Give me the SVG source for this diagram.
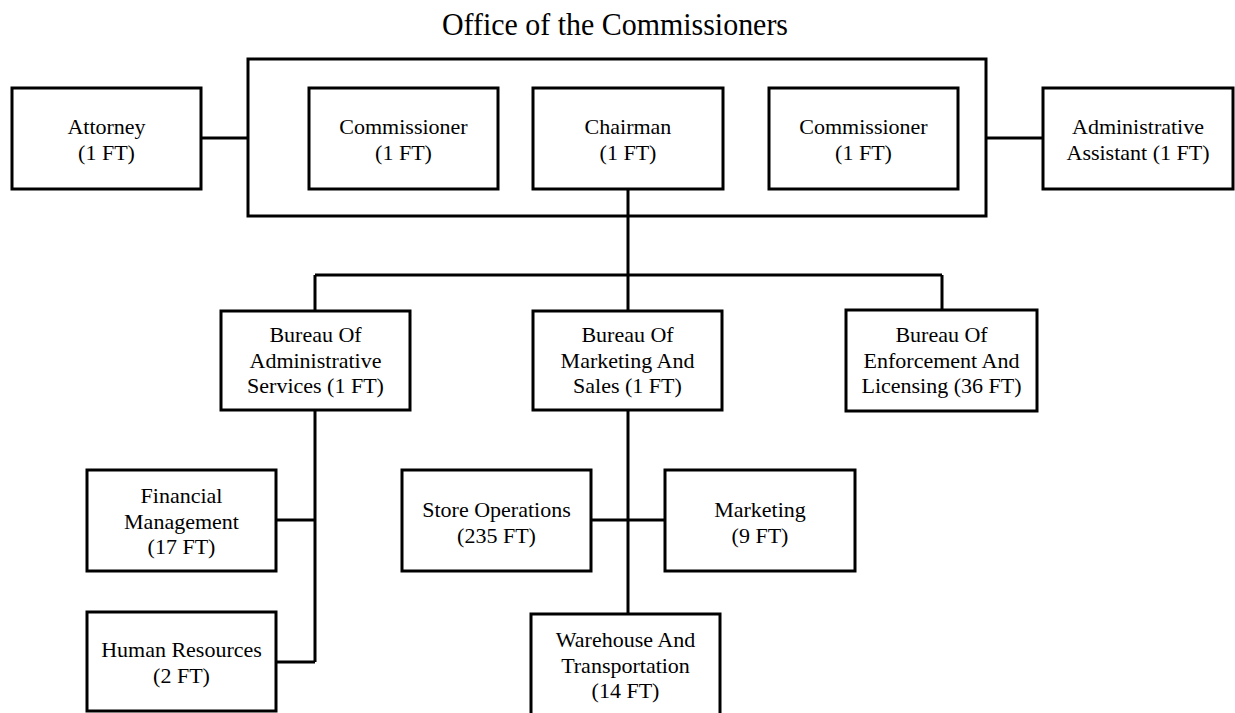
<svg xmlns="http://www.w3.org/2000/svg" width="1235" height="713" viewBox="0 0 1235 713">
<style>
.box{fill:#fff;stroke:#000;stroke-width:3}
.outer{fill:none;stroke:#000;stroke-width:3}
.ln{fill:none;stroke:#000;stroke-width:3}
text{font-family:"Liberation Serif","Times New Roman",serif;font-size:22px;fill:#000;text-anchor:middle}
.title{font-size:32px}
</style>
<rect width="1235" height="713" fill="#fff"/>
<text class="title" x="615" y="35" textLength="346" lengthAdjust="spacingAndGlyphs">Office of the Commissioners</text>
<g id="connectors">
<path class="ln" d="M201 138H248M986 138H1043M628 189V311M315 275H942M315 275V311M942 275V310M315 410V662M276 520H315M276 662H315M628 410V614M591 520H665"/>
</g>
<g id="office"><rect class="outer" x="248" y="59" width="738" height="157"/></g>
<g id="attorney"><rect class="box" x="12" y="88" width="189" height="101"/><text x="106.5" y="134">Attorney</text><text x="106.5" y="160">(1 FT)</text></g>
<g id="commissioner1"><rect class="box" x="309" y="88" width="189" height="101"/><text x="403.5" y="134">Commissioner</text><text x="403.5" y="160">(1 FT)</text></g>
<g id="chairman"><rect class="box" x="533" y="88" width="190" height="101"/><text x="628" y="134">Chairman</text><text x="628" y="160">(1 FT)</text></g>
<g id="commissioner2"><rect class="box" x="769" y="88" width="189" height="101"/><text x="863.5" y="134">Commissioner</text><text x="863.5" y="160">(1 FT)</text></g>
<g id="admin-assistant"><rect class="box" x="1043" y="88" width="190" height="101"/><text x="1138" y="134">Administrative</text><text x="1138" y="160">Assistant (1 FT)</text></g>
<g id="bureau-admin"><rect class="box" x="221" y="311" width="189" height="99"/><text x="315.5" y="342">Bureau Of</text><text x="315.5" y="368">Administrative</text><text x="315.5" y="393">Services (1 FT)</text></g>
<g id="bureau-marketing"><rect class="box" x="533" y="311" width="189" height="99"/><text x="627.5" y="342">Bureau Of</text><text x="627.5" y="368">Marketing And</text><text x="627.5" y="393">Sales (1 FT)</text></g>
<g id="bureau-enforcement"><rect class="box" x="846" y="310" width="191" height="101"/><text x="941.5" y="342">Bureau Of</text><text x="941.5" y="368">Enforcement And</text><text x="941.5" y="393">Licensing (36 FT)</text></g>
<g id="financial"><rect class="box" x="87" y="470" width="189" height="101"/><text x="181.5" y="503">Financial</text><text x="181.5" y="529">Management</text><text x="181.5" y="554">(17 FT)</text></g>
<g id="human-resources"><rect class="box" x="87" y="612" width="189" height="99"/><text x="181.5" y="657">Human Resources</text><text x="181.5" y="683">(2 FT)</text></g>
<g id="store-operations"><rect class="box" x="402" y="470" width="189" height="101"/><text x="496.5" y="517">Store Operations</text><text x="496.5" y="543">(235 FT)</text></g>
<g id="marketing"><rect class="box" x="665" y="470" width="190" height="101"/><text x="760" y="517">Marketing</text><text x="760" y="543">(9 FT)</text></g>
<g id="warehouse"><rect class="box" x="531" y="614" width="189" height="104"/><text x="625.5" y="647">Warehouse And</text><text x="625.5" y="673">Transportation</text><text x="625.5" y="698">(14 FT)</text></g>
</svg>
